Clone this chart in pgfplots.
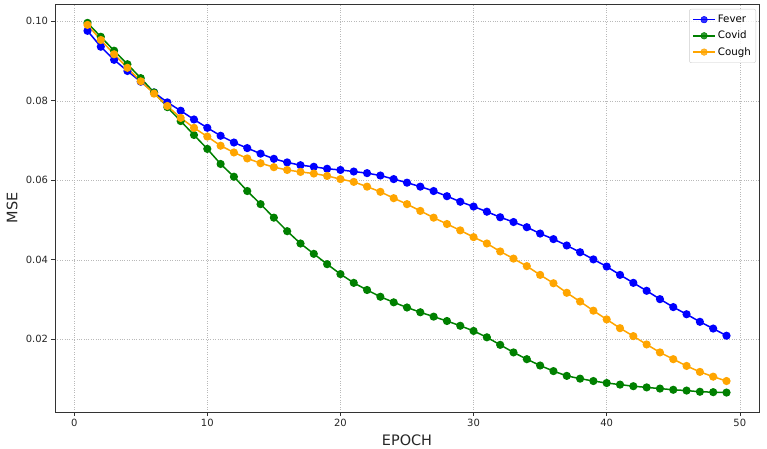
\documentclass[border=0pt]{standalone}
\usepackage{pgfplots}
\pgfplotsset{compat=1.18}
\usepackage{fontspec}
\setmainfont{DejaVu Sans}
\definecolor{mplblue}{RGB}{0,0,255}
\definecolor{mplgreen}{RGB}{0,128,0}
\definecolor{mplorange}{RGB}{255,165,0}
\begin{document}
\begin{tikzpicture}
\useasboundingbox (-55bp,-37bp) rectangle (712bp,412bp);
\begin{axis}[
  scale only axis,
  width=704bp, height=408bp,
  xmin=-1.44, xmax=51.44,
  ymin=0.00171, ymax=0.10435,
  xtick={0,10,20,30,40,50},
  ytick={0.02,0.04,0.06,0.08,0.10},
  yticklabel style={/pgf/number format/fixed,/pgf/number format/fixed zerofill,/pgf/number format/precision=2},
  /pgf/number format/assume math mode=true,
  scaled y ticks=false,
  tick label style={font=\fontsize{10}{12}\selectfont, text=black!85},
  tick align=outside,
  major tick length=3.5bp,
  tick style={black!80, line width=0.6bp},
  xtick pos=bottom, ytick pos=left,
  axis line style={black!80, line width=0.8bp},
  grid=major,
  grid style={gray!55, dotted, line width=0.5bp},
  xlabel={EPOCH}, ylabel={MSE},
  every axis x label/.style={at={(axis description cs:0.5,0)}, yshift=-28.5bp, anchor=center, inner sep=0pt, font=\fontsize{14.5}{16}\selectfont, text=black!85},
  every axis y label/.style={at={(axis description cs:0,0.5)}, xshift=-43bp, rotate=90, anchor=center, inner sep=0pt, font=\fontsize{14.5}{16}\selectfont, text=black!85},
  legend style={at={(rel axis cs:1,1)}, xshift=-3bp, yshift=-5bp, anchor=north east,
    font=\fontsize{10.3}{12}\selectfont, draw=gray!40, rounded corners=2bp, fill=white, fill opacity=0.8, text opacity=1,
    row sep=3bp, inner xsep=3bp, inner ysep=4bp,
    /tikz/every even column/.append style={column sep=5bp}},
  legend cell align=left,
  legend image code/.code={
    \draw[line width=1.5bp] (0bp,0bp) -- (22bp,0bp);
    \draw[mark options={line width=0.5bp}] plot[only marks] coordinates {(11bp,0bp)};},
  every axis plot/.append style={line width=1.5bp, mark=*, mark size=3.3bp, mark options={line width=0.5bp}},
]
\addplot[color=mplblue, mark options={fill=mplblue, draw=mplblue}] coordinates {
(1,0.0976)(2,0.0936)(3,0.0903)(4,0.0875)(5,0.0848)(6,0.0821)(7,0.0796)(8,0.0775)(9,0.0753)(10,0.0732)
(11,0.0712)(12,0.0695)(13,0.0681)(14,0.0667)(15,0.0654)(16,0.0645)(17,0.0638)(18,0.0634)(19,0.0629)(20,0.0626)
(21,0.0622)(22,0.0618)(23,0.0612)(24,0.0603)(25,0.0594)(26,0.0584)(27,0.0573)(28,0.0560)(29,0.0546)(30,0.0534)
(31,0.0521)(32,0.0507)(33,0.0495)(34,0.0482)(35,0.0466)(36,0.0452)(37,0.0436)(38,0.0419)(39,0.0401)(40,0.0383)
(41,0.0362)(42,0.0342)(43,0.0322)(44,0.0301)(45,0.0281)(46,0.0263)(47,0.0244)(48,0.0227)(49,0.0209)
};
\addlegendentry{Fever}
\addplot[color=mplgreen, mark options={fill=mplgreen, draw=mplgreen}] coordinates {
(1,0.0996)(2,0.0961)(3,0.0926)(4,0.0892)(5,0.0857)(6,0.0821)(7,0.0784)(8,0.0749)(9,0.0714)(10,0.0679)
(11,0.0641)(12,0.0609)(13,0.0573)(14,0.0540)(15,0.0506)(16,0.0472)(17,0.0441)(18,0.0415)(19,0.0389)(20,0.0364)
(21,0.0342)(22,0.0324)(23,0.0307)(24,0.0293)(25,0.0280)(26,0.0268)(27,0.0257)(28,0.0246)(29,0.0234)(30,0.0221)
(31,0.0205)(32,0.0186)(33,0.0167)(34,0.0150)(35,0.0134)(36,0.0120)(37,0.0108)(38,0.0101)(39,0.0095)(40,0.0090)
(41,0.0086)(42,0.0082)(43,0.0079)(44,0.0076)(45,0.0073)(46,0.0071)(47,0.0068)(48,0.0067)(49,0.0066)
};
\addlegendentry{Covid}
\addplot[color=mplorange, mark options={fill=mplorange, draw=mplorange}] coordinates {
(1,0.0991)(2,0.0953)(3,0.0917)(4,0.0883)(5,0.0849)(6,0.0818)(7,0.0787)(8,0.0757)(9,0.0732)(10,0.0710)
(11,0.0687)(12,0.0670)(13,0.0655)(14,0.0643)(15,0.0633)(16,0.0626)(17,0.0621)(18,0.0617)(19,0.0611)(20,0.0603)
(21,0.0596)(22,0.0584)(23,0.0571)(24,0.0555)(25,0.0540)(26,0.0523)(27,0.0506)(28,0.0490)(29,0.0474)(30,0.0457)
(31,0.0441)(32,0.0421)(33,0.0403)(34,0.0384)(35,0.0362)(36,0.0341)(37,0.0317)(38,0.0295)(39,0.0272)(40,0.0250)
(41,0.0228)(42,0.0208)(43,0.0187)(44,0.0167)(45,0.0150)(46,0.0133)(47,0.0118)(48,0.0106)(49,0.0095)
};
\addlegendentry{Cough}
\end{axis}
\end{tikzpicture}
\end{document}
